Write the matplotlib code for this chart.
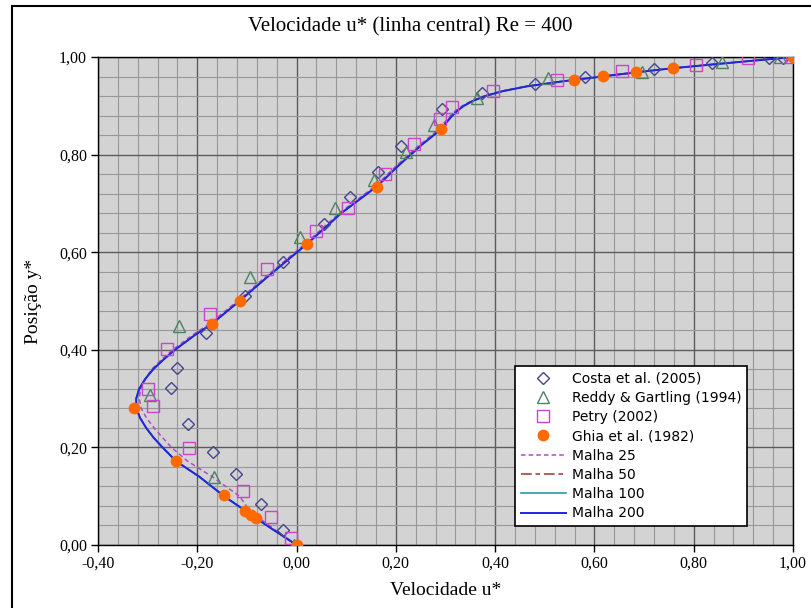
import matplotlib
matplotlib.use("Agg")
import matplotlib.pyplot as plt
from matplotlib.ticker import MultipleLocator, FuncFormatter
from matplotlib.patches import Rectangle

# Ghia et al. (1982), Re = 400
ghia_y = [0.0, 0.0547, 0.0625, 0.0703, 0.1016, 0.1719, 0.2813, 0.4531, 0.5, 0.6172,
          0.7344, 0.8516, 0.9531, 0.9609, 0.9688, 0.9766, 1.0]
ghia_u = [0.0, -0.08186, -0.09266, -0.10338, -0.14612, -0.24299, -0.32726, -0.17119,
          -0.11477, 0.02135, 0.16256, 0.29093, 0.55892, 0.61756, 0.68439, 0.75837, 1.0]

# Costa et al. (2005)
costa_u = [-0.028, -0.072, -0.122, -0.168, -0.218, -0.252, -0.240, -0.183, -0.104, -0.028,
           0.055, 0.108, 0.165, 0.210, 0.292, 0.374, 0.480, 0.582, 0.720, 0.836, 0.952, 0.980]
costa_y = [0.031, 0.083, 0.145, 0.190, 0.248, 0.321, 0.363, 0.434, 0.511, 0.579,
           0.658, 0.713, 0.764, 0.818, 0.893, 0.927, 0.945, 0.958, 0.975, 0.987, 0.997, 0.997]

# Reddy & Gartling (1994)
reddy_u = [-0.005, -0.166, -0.296, -0.236, -0.094, 0.006, 0.078, 0.155, 0.221, 0.276,
           0.364, 0.507, 0.695, 0.856, 0.974]
reddy_y = [0.0, 0.140, 0.307, 0.448, 0.550, 0.631, 0.690, 0.748, 0.806, 0.861,
           0.917, 0.956, 0.970, 0.990, 1.0]

# Petry (2002)
petry_u = [-0.012, -0.052, -0.107, -0.216, -0.289, -0.299, -0.261, -0.175, -0.059, 0.039,
           0.104, 0.178, 0.236, 0.288, 0.314, 0.396, 0.524, 0.656, 0.804, 0.910, 0.997]
petry_y = [0.015, 0.057, 0.110, 0.199, 0.285, 0.320, 0.401, 0.474, 0.565, 0.644,
           0.691, 0.760, 0.821, 0.872, 0.898, 0.931, 0.953, 0.972, 0.984, 0.997, 0.999]

# simulated profiles
mesh_y = [0.0, 0.03, 0.055, 0.07, 0.10, 0.14, 0.172, 0.20, 0.22, 0.24, 0.26, 0.28, 0.30,
          0.32, 0.34, 0.36, 0.38, 0.40, 0.43, 0.453, 0.50, 0.55, 0.617, 0.68, 0.735, 0.78,
          0.82, 0.852, 0.865, 0.878, 0.89, 0.90, 0.91, 0.92, 0.93, 0.94, 0.95, 0.958,
          0.965, 0.971, 0.977, 0.984, 0.992, 1.0]
u_m25 = [0.0, -0.042, -0.075, -0.094, -0.115, -0.170, -0.220, -0.252, -0.270, -0.287,
         -0.302, -0.313, -0.317, -0.314, -0.305, -0.292, -0.272, -0.250, -0.210, -0.176,
         -0.119, -0.062, 0.017, 0.086, 0.158, 0.204, 0.248, 0.287, 0.297, 0.308, 0.320,
         0.334, 0.352, 0.377, 0.412, 0.462, 0.532, 0.598, 0.653, 0.703, 0.757, 0.829,
         0.915, 1.0]
u_m50 = [0.0, -0.045, -0.082, -0.103, -0.146, -0.196, -0.243, -0.270, -0.288, -0.303,
         -0.315, -0.323, -0.323, -0.317, -0.305, -0.289, -0.268, -0.245, -0.205, -0.171,
         -0.115, -0.058, 0.021, 0.090, 0.162, 0.208, 0.252, 0.291, 0.301, 0.312, 0.324,
         0.337, 0.355, 0.380, 0.415, 0.465, 0.535, 0.600, 0.655, 0.705, 0.758, 0.830,
         0.915, 1.0]
u_m100 = [0.0, -0.045, -0.082, -0.103, -0.146, -0.196, -0.243, -0.270, -0.288, -0.303,
          -0.315, -0.323, -0.323, -0.317, -0.305, -0.289, -0.268, -0.245, -0.205, -0.171,
          -0.115, -0.058, 0.021, 0.090, 0.162, 0.208, 0.252, 0.291, 0.301, 0.312, 0.324,
          0.337, 0.355, 0.380, 0.415, 0.465, 0.535, 0.600, 0.655, 0.705, 0.758, 0.830,
          0.915, 1.0]
u_m200 = [0.0, -0.045, -0.082, -0.103, -0.146, -0.196, -0.243, -0.270, -0.288, -0.303,
          -0.315, -0.323, -0.323, -0.317, -0.305, -0.289, -0.268, -0.245, -0.205, -0.171,
          -0.115, -0.058, 0.021, 0.090, 0.162, 0.208, 0.252, 0.291, 0.301, 0.312, 0.324,
          0.337, 0.355, 0.380, 0.415, 0.465, 0.535, 0.600, 0.655, 0.705, 0.758, 0.830,
          0.915, 1.0]

serif = "Liberation Serif"

fig = plt.figure(figsize=(8.12, 6.08), dpi=100)
ax = fig.add_axes([98 / 812, 1 - 545 / 608, 695 / 812, 488 / 608])
ax.set_facecolor("#d3d3d3")

l25, = ax.plot(u_m25, mesh_y, color="#b04cc0", lw=1.1, dashes=(3, 2), zorder=3)
l50, = ax.plot(u_m50, mesh_y, color="#a03232", lw=1.1, dashes=(7, 2.5, 3, 2.5), zorder=3)
l100, = ax.plot(u_m100, mesh_y, color="#20a0a0", lw=1.2, zorder=3)
l200, = ax.plot(u_m200, mesh_y, color="#2323e0", lw=1.4, zorder=4)

hc, = ax.plot(costa_u, costa_y, ls="none", marker="D", ms=6, mfc="none",
              mec="#45458a", mew=1.0, zorder=5)
hr, = ax.plot(reddy_u, reddy_y, ls="none", marker="^", ms=8, mfc="none",
              mec="#4d8262", mew=1.0, zorder=5)
hp, = ax.plot(petry_u, petry_y, ls="none", marker="s", ms=8, mfc="none",
              mec="#cc44cc", mew=1.0, zorder=5)
hg, = ax.plot(ghia_u, ghia_y, ls="none", marker="o", ms=8.5, mfc="#ff6a00",
              mec="#ff6a00", mew=0, zorder=6)

ax.set_xlim(-0.4, 1.0)
ax.set_ylim(0.0, 1.0)
ax.xaxis.set_major_locator(MultipleLocator(0.2))
ax.yaxis.set_major_locator(MultipleLocator(0.2))
ax.xaxis.set_minor_locator(MultipleLocator(0.04))
ax.yaxis.set_minor_locator(MultipleLocator(0.04))
fmt = FuncFormatter(lambda v, p: f"{v:.2f}".replace(".", ","))
ax.xaxis.set_major_formatter(fmt)
ax.yaxis.set_major_formatter(fmt)
ax.grid(which="major", color="#5c5c5c", lw=1.0, zorder=1)
ax.grid(which="minor", color="#989898", lw=0.8, zorder=1)
ax.set_axisbelow(True)
ax.tick_params(which="major", direction="out", length=5, width=1, colors="black",
               labelsize=11.5, pad=3)
ax.tick_params(which="minor", length=0)
for lab in ax.get_xticklabels() + ax.get_yticklabels():
    lab.set_family(serif)
for s in ax.spines.values():
    s.set_color("black")
    s.set_linewidth(1.0)

fig.text(0.505, 1 - 27 / 608, "Velocidade u* (linha central) Re = 400", family=serif,
         fontsize=15, ha="center", va="center")
ax.set_xlabel("Velocidade u*", family=serif, fontsize=14, labelpad=7)
ax.set_ylabel("Posição y*", family=serif, fontsize=14, labelpad=12)

leg = ax.legend([hc, hr, hp, hg, l25, l50, l100, l200],
                ["Costa et al. (2005)", "Reddy & Gartling (1994)", "Petry (2002)",
                 "Ghia et al. (1982)", "Malha 25", "Malha 50", "Malha 100", "Malha 200"],
                loc="upper left", bbox_to_anchor=(0.600, 0.367), borderaxespad=0,
                fontsize=10, handlelength=3.3, handletextpad=0.4, labelspacing=0.38,
                borderpad=0.4, fancybox=False, framealpha=1, edgecolor="black")
leg.get_frame().set_linewidth(1.2)
leg.set_zorder(10)

fig.add_artist(Rectangle((12 / 812, -0.1), 1.2, 1.1 - 6 / 608, transform=fig.transFigure,
                         fill=False, edgecolor="black", lw=1.5, clip_on=False))

fig.savefig("out.png", dpi=100)
